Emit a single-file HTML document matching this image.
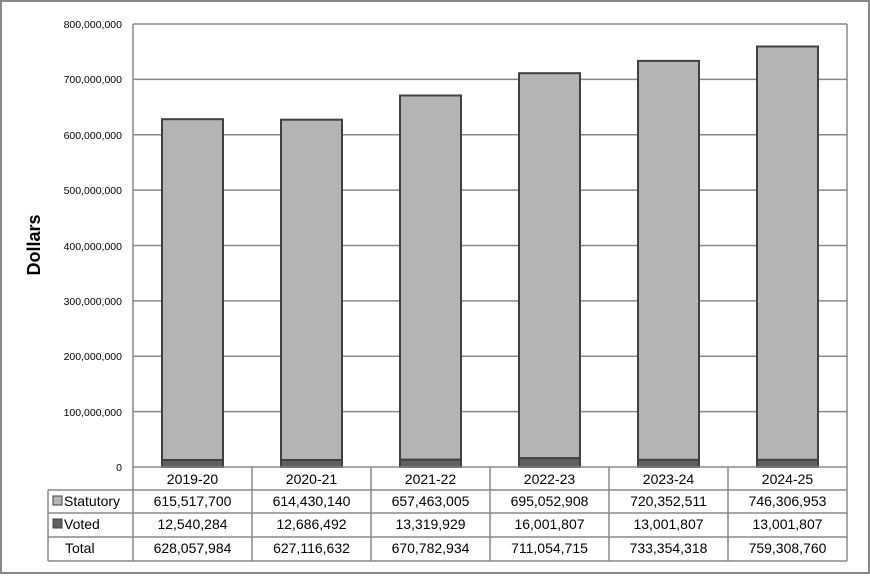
<!DOCTYPE html>
<html><head><style>
body{margin:0;background:#fff;}
svg text{font-family:"Liberation Sans",sans-serif;}
</style></head><body>
<svg width="870" height="574" xmlns="http://www.w3.org/2000/svg">
<rect x="1" y="1" width="868" height="572" fill="#fff" stroke="#888" stroke-width="2"/>
<g stroke="#888" stroke-width="1.5">
<line x1="133" y1="24" x2="847" y2="24"/>
<line x1="133" y1="79.4" x2="847" y2="79.4"/>
<line x1="133" y1="134.8" x2="847" y2="134.8"/>
<line x1="133" y1="190.1" x2="847" y2="190.1"/>
<line x1="133" y1="245.5" x2="847" y2="245.5"/>
<line x1="133" y1="300.9" x2="847" y2="300.9"/>
<line x1="133" y1="356.3" x2="847" y2="356.3"/>
<line x1="133" y1="411.6" x2="847" y2="411.6"/>
<line x1="133" y1="24" x2="133" y2="467"/>
<line x1="847" y1="24" x2="847" y2="467"/>
</g>
<g font-size="10.5" fill="#000" text-anchor="end">
<text x="122" y="28">800,000,000</text>
<text x="122" y="83">700,000,000</text>
<text x="122" y="139">600,000,000</text>
<text x="122" y="194">500,000,000</text>
<text x="122" y="250">400,000,000</text>
<text x="122" y="305">300,000,000</text>
<text x="122" y="360">200,000,000</text>
<text x="122" y="416">100,000,000</text>
<text x="122" y="471">0</text>
</g>
<text transform="translate(40,245) rotate(-90)" font-size="18" font-weight="bold" text-anchor="middle">Dollars</text>
<g stroke="#404040" stroke-width="2">
<rect x="162" y="119.2" width="61" height="347.8" fill="#b4b4b4"/>
<rect x="162" y="460" width="61" height="7" fill="#606060"/>
<rect x="281" y="119.7" width="61" height="347.3" fill="#b4b4b4"/>
<rect x="281" y="460" width="61" height="7" fill="#606060"/>
<rect x="400" y="95.5" width="61" height="371.5" fill="#b4b4b4"/>
<rect x="400" y="459.6" width="61" height="7.4" fill="#606060"/>
<rect x="519" y="73.2" width="61" height="393.8" fill="#b4b4b4"/>
<rect x="519" y="458.1" width="61" height="8.9" fill="#606060"/>
<rect x="638" y="60.9" width="61" height="406.1" fill="#b4b4b4"/>
<rect x="638" y="459.8" width="61" height="7.2" fill="#606060"/>
<rect x="757" y="46.5" width="61" height="420.5" fill="#b4b4b4"/>
<rect x="757" y="459.8" width="61" height="7.2" fill="#606060"/>
</g>
<g stroke="#888" stroke-width="1.5" fill="none">
<line x1="133" y1="467" x2="847" y2="467"/>
<line x1="48" y1="490" x2="847" y2="490"/>
<line x1="48" y1="513" x2="847" y2="513"/>
<line x1="48" y1="537" x2="847" y2="537"/>
<line x1="48" y1="561" x2="847" y2="561"/>
<line x1="48" y1="490" x2="48" y2="561"/>
<line x1="133" y1="467" x2="133" y2="561"/>
<line x1="252" y1="467" x2="252" y2="561"/>
<line x1="371" y1="467" x2="371" y2="561"/>
<line x1="490" y1="467" x2="490" y2="561"/>
<line x1="609" y1="467" x2="609" y2="561"/>
<line x1="728" y1="467" x2="728" y2="561"/>
<line x1="847" y1="467" x2="847" y2="561"/>
</g>
<rect x="53" y="496" width="9" height="9" fill="#b4b4b4" stroke="#404040"/>
<rect x="53" y="519" width="9" height="9" fill="#606060" stroke="#404040"/>
<g font-size="14" text-anchor="start">
<text x="64" y="506">Statutory</text>
<text x="64" y="529">Voted</text>
<text x="65" y="553">Total</text>
</g>
<g font-size="14" text-anchor="middle">
<text x="192.5" y="484">2019-20</text><text x="311.5" y="484">2020-21</text><text x="430.5" y="484">2021-22</text><text x="549.5" y="484">2022-23</text><text x="668.5" y="484">2023-24</text><text x="787.5" y="484">2024-25</text>
<text x="192.5" y="506">615,517,700</text><text x="311.5" y="506">614,430,140</text><text x="430.5" y="506">657,463,005</text><text x="549.5" y="506">695,052,908</text><text x="668.5" y="506">720,352,511</text><text x="787.5" y="506">746,306,953</text>
<text x="192.5" y="529">12,540,284</text><text x="311.5" y="529">12,686,492</text><text x="430.5" y="529">13,319,929</text><text x="549.5" y="529">16,001,807</text><text x="668.5" y="529">13,001,807</text><text x="787.5" y="529">13,001,807</text>
<text x="192.5" y="553">628,057,984</text><text x="311.5" y="553">627,116,632</text><text x="430.5" y="553">670,782,934</text><text x="549.5" y="553">711,054,715</text><text x="668.5" y="553">733,354,318</text><text x="787.5" y="553">759,308,760</text>
</g>
</svg>
</body></html>
